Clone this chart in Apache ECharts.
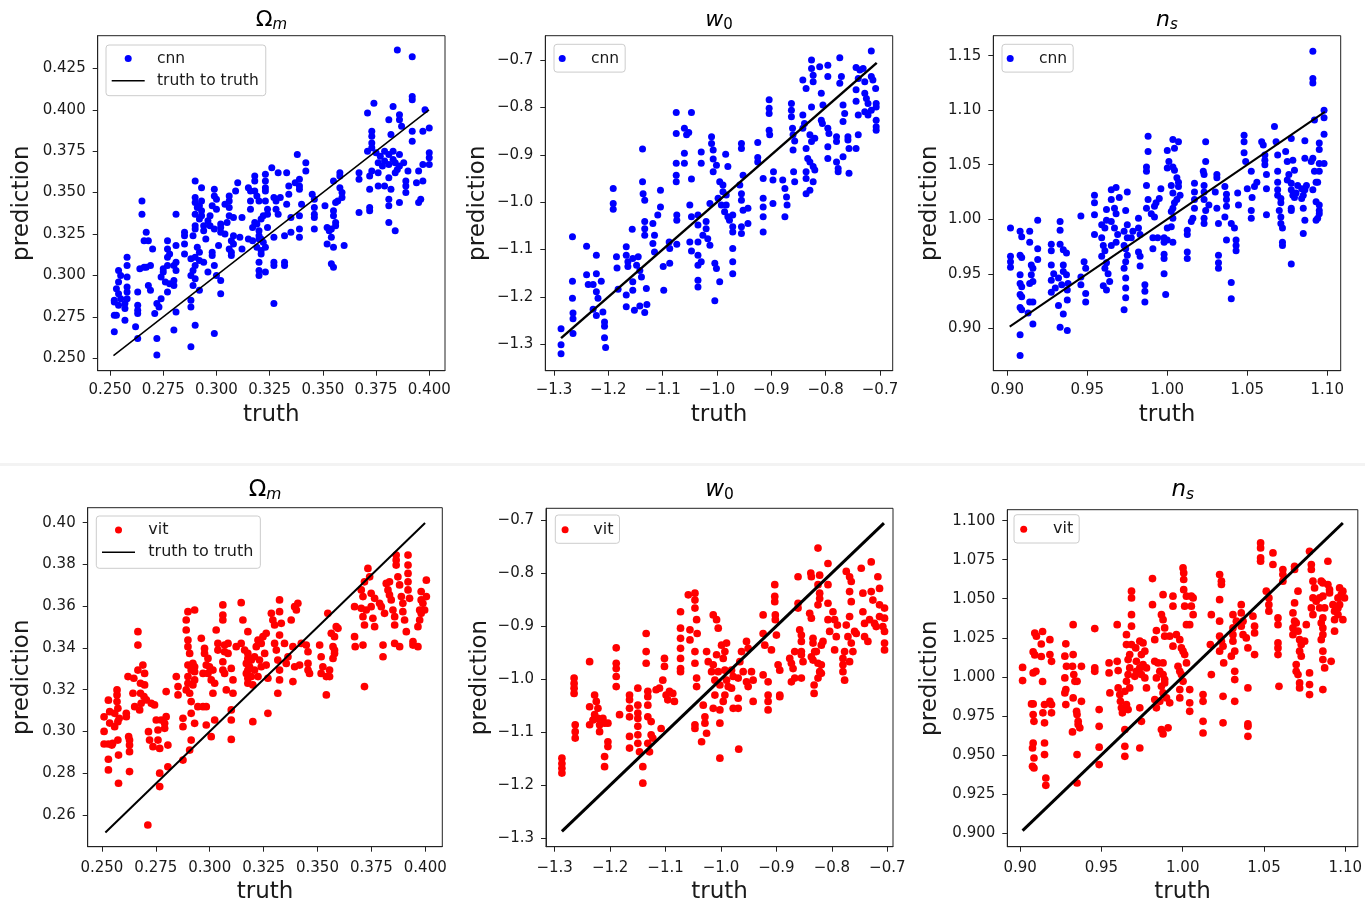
<!DOCTYPE html>
<html><head><meta charset="utf-8">
<script src="https://cdn.jsdelivr.net/npm/echarts@6/dist/echarts.min.js"></script>
<style>html,body{margin:0;padding:0;background:#fff}#c{width:1365px;height:905px}</style>
</head><body><div id="c"></div>
<script>
// ---------------- DATA ----------------
// [truth, prediction]
const omCnn = [[0.254,0.303],[0.255,0.300],[0.254,0.296],[0.253,0.292],[0.254,0.289],[0.255,0.286],[0.252,0.284],[0.254,0.282],[0.258,0.311],[0.258,0.306],[0.258,0.299],[0.258,0.293],[0.258,0.290],[0.258,0.286],[0.257,0.283],[0.257,0.280],[0.257,0.273],[0.252,0.285],[0.252,0.276],[0.253,0.276],[0.252,0.266],[0.263,0.290],[0.263,0.282],[0.263,0.279],[0.263,0.277],[0.262,0.269],[0.263,0.262],
[0.265,0.345],[0.265,0.337],[0.267,0.326],[0.266,0.321],[0.268,0.321],[0.270,0.316],[0.269,0.306],[0.267,0.305],[0.266,0.305],[0.264,0.304],[0.268,0.294],[0.269,0.291],[0.272,0.283],[0.271,0.277],
[0.281,0.337],[0.285,0.326],[0.285,0.324],[0.285,0.319],[0.285,0.313],[0.281,0.318],[0.277,0.321],[0.277,0.316],[0.278,0.313],[0.277,0.311],[0.277,0.306],[0.280,0.306],[0.281,0.308],[0.281,0.303],[0.280,0.297],[0.280,0.294],[0.275,0.304],[0.275,0.302],[0.274,0.299],[0.276,0.296],[0.277,0.290],[0.278,0.295],[0.274,0.286],[0.273,0.281],[0.281,0.278],[0.280,0.267],[0.272,0.262],[0.272,0.252],
[0.290,0.357],[0.293,0.353],[0.290,0.347],[0.290,0.344],[0.291,0.341],[0.293,0.345],[0.292,0.342],[0.293,0.339],[0.290,0.337],[0.292,0.334],[0.293,0.336],[0.290,0.330],[0.290,0.328],[0.289,0.324],[0.294,0.330],[0.294,0.327],[0.295,0.322],[0.291,0.317],[0.292,0.314],[0.290,0.311],[0.288,0.310],[0.292,0.309],[0.294,0.308],[0.290,0.306],[0.289,0.303],[0.288,0.300],[0.290,0.298],[0.289,0.294],[0.292,0.291],[0.288,0.285],[0.288,0.281],[0.290,0.270],[0.288,0.257],[0.299,0.352],[0.299,0.348],[0.300,0.346],[0.298,0.342],[0.300,0.340],[0.297,0.336],[0.296,0.333],[0.297,0.330],[0.299,0.328],[0.298,0.314],[0.298,0.312],[0.299,0.306],[0.296,0.302],[0.300,0.300],[0.302,0.297],[0.302,0.289],[0.299,0.265],[0.301,0.318],
[0.302,0.331],[0.302,0.329],[0.302,0.326],[0.304,0.325],[0.304,0.343],[0.306,0.341],[0.306,0.348],[0.306,0.345],[0.310,0.356],[0.309,0.351],[0.306,0.336],[0.308,0.335],[0.312,0.335],[0.305,0.332],[0.308,0.324],[0.311,0.323],[0.307,0.321],[0.308,0.319],[0.312,0.316],[0.307,0.314],[0.307,0.312],[0.306,0.316],
[0.326,0.365],[0.329,0.362],[0.323,0.361],[0.318,0.360],[0.318,0.357],[0.315,0.353],[0.316,0.351],[0.318,0.351],[0.323,0.357],[0.323,0.353],[0.323,0.351],[0.319,0.348],[0.320,0.345],[0.323,0.345],[0.327,0.347],[0.330,0.347],[0.328,0.345],[0.328,0.340],[0.324,0.340],[0.324,0.337],[0.329,0.337],[0.316,0.340],[0.316,0.345],[0.322,0.336],[0.321,0.334],[0.318,0.332],[0.317,0.329],[0.324,0.329],[0.319,0.331],[0.320,0.327],[0.320,0.324],[0.320,0.322],[0.321,0.322],[0.322,0.320],[0.323,0.317],[0.321,0.315],[0.321,0.313],[0.320,0.308],[0.320,0.303],[0.323,0.302],[0.320,0.300],[0.315,0.322],[0.317,0.321],[0.319,0.317],[0.327,0.323],[0.327,0.308],[0.327,0.306],[0.327,0.283],
[0.338,0.373],[0.342,0.368],[0.342,0.363],[0.339,0.358],[0.339,0.354],[0.339,0.352],[0.334,0.354],[0.333,0.362],[0.334,0.349],[0.333,0.343],[0.337,0.356],[0.340,0.343],[0.345,0.349],[0.346,0.346],[0.346,0.341],[0.346,0.337],[0.346,0.335],[0.339,0.336],[0.335,0.335],[0.339,0.328],[0.339,0.323],[0.346,0.328],[0.332,0.324],[0.335,0.326],[0.332,0.308],[0.332,0.306],
[0.358,0.362],[0.358,0.360],[0.355,0.357],[0.358,0.353],[0.359,0.350],[0.359,0.347],[0.357,0.345],[0.356,0.344],[0.355,0.339],[0.355,0.336],[0.356,0.332],[0.356,0.330],[0.354,0.328],[0.352,0.329],[0.353,0.327],[0.354,0.323],[0.352,0.319],[0.355,0.317],[0.360,0.318],[0.354,0.307],[0.355,0.305],[0.351,0.342],
[0.385,0.436],[0.392,0.432],[0.392,0.408],[0.392,0.406],[0.374,0.404],[0.371,0.398],[0.383,0.402],[0.386,0.397],[0.386,0.394],[0.381,0.394],[0.398,0.400],[0.400,0.389],[0.397,0.387],[0.392,0.387],[0.392,0.381],[0.387,0.390],[0.382,0.385],[0.373,0.387],[0.373,0.384],[0.373,0.380],[0.373,0.377],[0.371,0.375],[0.375,0.374],[0.377,0.372],[0.379,0.375],[0.381,0.373],[0.383,0.375],[0.383,0.370],[0.379,0.369],[0.376,0.368],[0.378,0.366],[0.381,0.367],[0.384,0.368],[0.386,0.373],[0.386,0.366],[0.388,0.368],[0.390,0.363],[0.385,0.364],[0.384,0.362],[0.400,0.374],[0.400,0.371],[0.400,0.367],[0.397,0.367],[0.395,0.363],[0.394,0.356],[0.397,0.357],[0.389,0.357],[0.381,0.359],[0.376,0.362],[0.373,0.363],[0.372,0.360],[0.367,0.362],[0.367,0.358],[0.372,0.352],[0.376,0.354],[0.379,0.354],[0.382,0.352],[0.389,0.354],[0.389,0.350],[0.386,0.344],[0.381,0.346],[0.381,0.342],[0.395,0.344],[0.396,0.346],[0.372,0.341],[0.372,0.339],[0.367,0.338],[0.381,0.332],[0.384,0.327]];

const w0Cnn = [[-1.287,-1.267],[-1.287,-1.301],[-1.287,-1.320],[-1.266,-1.073],[-1.266,-1.167],[-1.266,-1.203],[-1.265,-1.234],[-1.265,-1.246],[-1.265,-1.277],[-1.240,-1.093],[-1.240,-1.153],[-1.237,-1.174],[-1.228,-1.174],[-1.222,-1.112],[-1.222,-1.151],[-1.222,-1.189],[-1.219,-1.203],[-1.228,-1.226],[-1.222,-1.239],[-1.213,-1.167],[-1.210,-1.232],[-1.207,-1.253],[-1.207,-1.262],[-1.207,-1.286],[-1.205,-1.307],
[-1.191,-0.971],[-1.191,-1.003],[-1.191,-1.015],[-1.185,-1.115],[-1.184,-1.139],[-1.182,-1.184],[-1.167,-1.094],[-1.167,-1.112],[-1.164,-1.126],[-1.164,-1.136],[-1.167,-1.196],[-1.167,-1.221],[-1.156,-1.057],[-1.155,-1.119],[-1.148,-1.133],[-1.145,-1.115],[-1.142,-1.144],[-1.139,-1.158],[-1.155,-1.168],[-1.155,-1.186],[-1.152,-1.228],[-1.142,-1.219],[-1.133,-1.233],[-1.129,-1.216],[-1.130,-1.182],
[-1.137,-0.888],[-1.137,-0.957],[-1.136,-0.982],[-1.133,-0.996],[-1.133,-1.041],[-1.133,-1.056],[-1.133,-1.070],[-1.118,-1.045],[-1.115,-1.070],[-1.118,-1.087],[-1.115,-1.105],[-1.109,-1.027],[-1.104,-0.975],[-1.104,-1.010],[-1.099,-1.136],[-1.098,-1.186],[-1.088,-1.084],[-1.087,-1.098],[-1.087,-1.129],
[-1.075,-0.811],[-1.075,-0.855],[-1.075,-0.918],[-1.075,-0.943],[-1.075,-0.957],[-1.074,-1.027],[-1.074,-1.038],[-1.074,-1.089],[-1.060,-0.844],[-1.060,-0.897],[-1.060,-0.918],[-1.056,-0.858],[-1.052,-0.853],[-1.047,-0.811],[-1.047,-0.951],[-1.050,-1.006],[-1.047,-1.031],[-1.050,-1.084],[-1.047,-1.103],
[-1.035,-1.027],[-1.035,-1.048],[-1.035,-1.084],[-1.035,-1.112],[-1.035,-1.133],[-1.035,-1.165],[-1.035,-1.179],[-1.029,-1.126],[-1.029,-0.894],[-1.029,-0.918],[-1.010,-0.862],[-1.010,-0.876],[-1.007,-0.890],[-1.007,-0.909],[-1.001,-0.922],[-1.007,-0.936],[-1.013,-1.003],[-1.020,-1.041],[-1.020,-1.056],[-1.026,-1.070],[-1.017,-1.077],[-1.013,-1.091],[-1.004,-1.129],[-1.001,-1.140],[-0.995,-1.168],[-1.004,-1.208],
[-0.984,-0.899],[-0.980,-0.925],[-0.995,-0.957],[-0.989,-0.964],[-0.989,-0.978],[-0.998,-0.992],[-0.992,-1.006],[-0.983,-0.985],[-0.983,-1.006],[-0.986,-1.020],[-0.980,-1.031],[-0.977,-1.038],[-0.971,-1.027],[-0.971,-1.052],[-0.971,-1.063],[-0.971,-1.098],[-0.971,-1.126],[-0.971,-1.151],
[-0.955,-0.876],[-0.955,-0.887],[-0.952,-0.943],[-0.958,-0.964],[-0.955,-0.982],[-0.955,-0.996],[-0.952,-1.017],[-0.955,-1.052],[-0.955,-1.066],[-0.943,-1.013],[-0.943,-1.045],[-0.925,-0.874],[-0.925,-0.906],[-0.925,-0.915],[-0.915,-0.950],[-0.915,-0.992],[-0.915,-1.010],[-0.915,-1.031],[-0.915,-1.063],
[-0.904,-0.784],[-0.904,-0.802],[-0.904,-0.813],[-0.904,-0.848],[-0.903,-0.858],[-0.896,-0.936],[-0.897,-0.953],[-0.897,-1.003],[-0.879,-0.953],[-0.875,-0.971],[-0.872,-0.989],[-0.871,-1.006],[-0.875,-1.031],
[-0.863,-0.792],[-0.863,-0.806],[-0.863,-0.820],[-0.861,-0.844],[-0.860,-0.858],[-0.857,-0.871],[-0.860,-0.890],[-0.859,-0.936],[-0.857,-0.957],[-0.842,-0.742],[-0.836,-0.760],[-0.826,-0.700],[-0.826,-0.718],[-0.823,-0.732],[-0.823,-0.746],[-0.811,-0.714],[-0.796,-0.711],[-0.796,-0.735],[-0.808,-0.770],[-0.805,-0.795],[-0.826,-0.799],[-0.842,-0.816],[-0.839,-0.834],[-0.842,-0.844],[-0.829,-0.858],[-0.826,-0.872],[-0.820,-0.865],[-0.836,-0.887],[-0.833,-0.908],[-0.829,-0.915],[-0.823,-0.925],[-0.820,-0.932],[-0.836,-0.936],[-0.836,-0.950],[-0.823,-0.957],[-0.829,-0.975],[-0.836,-0.982],
[-0.808,-0.827],[-0.806,-0.834],[-0.796,-0.844],[-0.794,-0.855],[-0.796,-0.883],[-0.796,-0.908],[-0.780,-0.862],[-0.780,-0.872],[-0.780,-0.915],[-0.777,-0.929],[-0.777,-0.936],[-0.774,-0.695],[-0.771,-0.735],[-0.774,-0.749],[-0.768,-0.795],[-0.765,-0.813],[-0.768,-0.830],[-0.759,-0.862],[-0.759,-0.869],[-0.757,-0.887],[-0.757,-0.939],[-0.768,-0.904],
[-0.744,-0.716],[-0.740,-0.739],[-0.737,-0.721],[-0.744,-0.763],[-0.744,-0.787],[-0.740,-0.816],[-0.740,-0.858],[-0.744,-0.887],[-0.731,-0.718],[-0.728,-0.746],[-0.728,-0.770],[-0.725,-0.781],[-0.722,-0.792],[-0.716,-0.681],[-0.716,-0.735],[-0.713,-0.742],[-0.708,-0.760],[-0.707,-0.792],[-0.707,-0.799],[-0.716,-0.806],[-0.722,-0.816],[-0.728,-0.809],[-0.707,-0.827],[-0.707,-0.841],[-0.707,-0.848]];

const nsCnn = [[0.902,0.992],[0.902,0.966],[0.902,0.961],[0.902,0.956],[0.908,0.989],[0.909,0.984],[0.908,0.967],[0.909,0.965],[0.908,0.949],[0.908,0.941],[0.909,0.938],[0.908,0.931],[0.909,0.929],[0.908,0.919],[0.909,0.917],[0.908,0.894],[0.908,0.875],
[0.914,0.989],[0.914,0.979],[0.919,0.999],[0.919,0.973],[0.919,0.963],[0.915,0.958],[0.916,0.955],[0.915,0.949],[0.916,0.943],[0.914,0.941],[0.916,0.924],[0.914,0.924],[0.913,0.914],[0.916,0.904],
[0.9275,0.977],[0.9275,0.971],[0.933,0.998],[0.933,0.990],[0.933,0.977],[0.935,0.972],[0.937,0.969],[0.9275,0.958],[0.929,0.950],[0.9275,0.944],[0.930,0.937],[0.9275,0.933],[0.935,0.958],[0.935,0.952],[0.937,0.949],[0.938,0.941],[0.932,0.946],[0.934,0.940],[0.9375,0.935],[0.9375,0.926],[0.932,0.921],[0.935,0.913],[0.933,0.901],[0.9375,0.898],
[0.946,1.003],[0.946,0.947],[0.946,0.940],[0.948,0.961],[0.949,0.955],[0.949,0.932],[0.949,0.924],
[0.9545,1.022],[0.9545,1.015],[0.9545,1.004],[0.9545,0.986],[0.959,0.995],[0.962,1.009],[0.962,0.999],[0.961,0.992],[0.959,0.983],[0.960,0.976],[0.961,0.971],[0.959,0.966],[0.962,0.960],[0.961,0.955],[0.960,0.939],[0.962,0.935],[0.963,0.950],
[0.965,1.027],[0.968,1.029],[0.970,1.020],[0.965,1.018],[0.967,1.010],[0.968,1.005],[0.965,0.998],[0.967,0.992],[0.969,0.986],[0.968,0.979],[0.965,0.976],[0.964,0.943],
[0.975,1.025],[0.974,1.008],[0.975,0.995],[0.973,0.989],[0.975,0.983],[0.973,0.976],[0.974,0.973],[0.975,0.967],[0.974,0.961],[0.973,0.955],[0.974,0.946],[0.974,0.937],[0.974,0.928],[0.973,0.917],[0.9785,0.989],[0.9775,0.983],[0.982,1.001],[0.982,0.992],[0.983,0.986],[0.982,0.970],[0.983,0.966],[0.983,0.957],
[0.988,1.076],[0.988,1.062],[0.987,1.048],[0.987,1.044],[0.987,1.031],[0.988,1.018],[0.987,1.010],[0.992,1.012],[0.990,1.005],[0.992,1.002],[0.996,1.028],[0.995,1.019],[0.993,1.015],[0.991,0.983],[0.994,0.983],[0.991,0.973],[0.986,0.940],[0.986,0.934],[0.986,0.924],[0.998,0.983],[0.998,0.979],[0.998,0.968],[0.998,0.964],[0.998,0.950],[0.999,0.931],
[1.000,1.063],[1.0035,1.073],[1.007,1.071],[1.0045,1.065],[1.001,1.053],[1.0035,1.048],[1.000,1.047],[1.0045,1.045],[1.006,1.038],[1.007,1.034],[1.0025,1.031],[1.007,1.030],[1.0035,1.024],[1.008,1.022],[1.006,1.018],[1.0045,1.015],[1.0035,1.010],[1.0025,1.007],[1.0035,1.001],[1.0025,0.993],[1.000,0.992],[1.0035,0.979],[1.000,0.981],
[1.0125,0.990],[1.0125,0.986],[1.0125,0.970],[1.0125,0.964],[1.017,1.033],[1.017,1.025],[1.017,1.018],[1.017,1.010],[1.016,1.001],[1.015,0.998],
[1.024,1.071],[1.024,1.053],[1.0225,1.044],[1.023,1.041],[1.023,1.031],[1.023,1.025],[1.023,1.018],[1.024,1.008],[1.023,1.001],[1.023,0.996],[1.026,1.013],[1.030,1.025],[1.031,1.041],[1.031,1.038],[1.031,1.010],[1.032,0.996],[1.032,0.967],[1.032,0.960],[1.032,0.955],
[1.036,1.030],[1.037,1.023],[1.037,1.018],[1.037,1.012],[1.036,1.002],[1.037,0.981],[1.040,0.996],[1.042,0.992],[1.043,0.981],[1.043,0.976],[1.043,0.971],[1.040,0.942],[1.040,0.927],[1.044,1.024],[1.0445,1.013],
[1.048,1.077],[1.048,1.071],[1.048,1.061],[1.049,1.053],[1.0525,1.044],[1.056,1.034],[1.0545,1.030],[1.053,1.020],[1.0525,1.008],[1.0525,1.001],[1.050,1.028],[1.059,1.071],[1.060,1.068],[1.061,1.059],[1.061,1.054],[1.061,1.050],[1.062,1.041],[1.062,1.028],[1.062,1.004],
[1.067,1.085],[1.068,1.071],[1.069,1.059],[1.069,1.044],[1.069,1.034],[1.069,1.027],[1.069,1.022],[1.071,1.019],[1.071,1.015],[1.070,1.008],[1.071,1.002],[1.071,0.996],[1.072,0.992],[1.072,0.979],[1.072,0.976],[1.074,1.062],[1.075,1.053],[1.076,1.041],[1.075,1.036],
[1.0775,1.074],[1.0785,1.054],[1.0795,1.045],[1.0775,1.033],[1.0775,1.027],[1.0785,1.022],[1.0795,1.020],[1.0805,1.024],[1.0815,1.031],[1.084,1.028],[1.085,1.022],[1.086,1.027],[1.087,1.031],[1.084,1.019],[1.0775,1.010],[1.0775,1.008],[1.085,1.010],[1.086,0.999],[1.085,0.987],[1.0775,0.959],[1.086,1.072],[1.086,1.056],
[1.091,1.154],[1.091,1.129],[1.091,1.125],[1.092,1.091],[1.091,1.056],[1.092,1.044],[1.093,1.034],[1.091,1.027],[1.090,1.053],[1.095,1.070],[1.095,1.064],[1.095,1.051],[1.098,1.051],[1.098,1.078],[1.098,1.100],[1.098,1.093],[1.095,1.044],[1.094,1.034],[1.095,1.013],[1.095,1.008],[1.095,1.005],[1.094,1.001],[1.093,0.999],[1.093,1.016]];

const omVit = [[0.251,0.307],[0.251,0.300],[0.251,0.294],[0.253,0.315],[0.2536,0.3095],[0.2536,0.304],[0.253,0.294],[0.253,0.2867],[0.253,0.2816],[0.255,0.2943],[0.2559,0.3023],[0.2559,0.3087],[0.257,0.3199],[0.257,0.3175],[0.257,0.3143],[0.2574,0.3111],[0.258,0.3063],[0.2574,0.3047],[0.2574,0.2959],[0.2577,0.2887],[0.2577,0.2752],[0.2546,0.2935],
[0.2613,0.3087],[0.2613,0.3071],[0.2624,0.2975],[0.2628,0.2959],[0.2628,0.2935],[0.2628,0.2903],[0.2628,0.2808],[0.2621,0.3263],[0.2648,0.3255],[0.2644,0.3183],[0.2652,0.3119],[0.2667,0.3294],[0.2667,0.3478],[0.2667,0.3414],[0.2679,0.3231],[0.2679,0.3183],[0.2682,0.3135],[0.269,0.3318],[0.2698,0.3278],[0.2698,0.3223],[0.2695,0.3167],[0.2675,0.3103],[0.2706,0.3151],
[0.2716,0.2999],[0.2721,0.2959],[0.2729,0.3135],[0.2744,0.3127],[0.2752,0.3055],[0.276,0.3007],[0.276,0.2959],[0.2768,0.2919],[0.2737,0.2927],[0.2775,0.3055],[0.2791,0.3039],[0.2798,0.3071],[0.2798,0.3191],[0.2791,0.3015],[0.2806,0.2935],[0.2768,0.28],[0.2768,0.2736],[0.2806,0.2831],[0.2713,0.2552],
[0.2845,0.3263],[0.2853,0.3215],[0.2853,0.3175],[0.2876,0.3063],[0.2876,0.3023],[0.2876,0.2863],[0.2891,0.3534],[0.2899,0.3574],[0.293,0.3582],[0.2891,0.3486],[0.2899,0.3438],[0.2899,0.3406],[0.2907,0.3374],[0.2899,0.3318],[0.2899,0.3263],[0.2899,0.3231],[0.2891,0.3199],[0.2907,0.3183],[0.2914,0.3143],[0.2922,0.3326],[0.293,0.331],[0.293,0.3286],[0.293,0.3247],[0.2922,0.3223],[0.2914,0.3294],[0.2914,0.3087],[0.2914,0.2959],[0.2907,0.2911],[0.293,0.3039],[0.2945,0.3119],
[0.2961,0.3446],[0.2976,0.3398],[0.2976,0.3374],[0.2992,0.335],[0.2984,0.3318],[0.2999,0.331],[0.2969,0.3278],[0.2992,0.3278],[0.3015,0.3294],[0.3007,0.3247],[0.3023,0.3231],[0.3015,0.3183],[0.2984,0.3119],[0.2969,0.3119],[0.2984,0.3031],[0.3023,0.3055],[0.3007,0.2975],[0.303,0.3486],[0.3038,0.3422],[0.3038,0.339],[0.3061,0.3606],[0.3061,0.3558],[0.3061,0.3534],[0.3069,0.3414],[0.3069,0.3382],[0.3061,0.3334],[0.3061,0.3294],[0.3069,0.3278],[0.3085,0.3422],[0.3085,0.3374],[0.3077,0.3199],[0.31,0.3302],[0.31,0.3103],[0.3108,0.3247],[0.3108,0.3183],[0.31,0.3055],[0.31,0.2962],
[0.3123,0.3406],[0.3146,0.3617],[0.3154,0.3534],[0.3146,0.3422],[0.3162,0.339],[0.3177,0.3478],[0.3177,0.3374],[0.3177,0.335],[0.317,0.3326],[0.3185,0.331],[0.3177,0.3294],[0.317,0.3278],[0.3177,0.3255],[0.3177,0.3231],[0.3193,0.3342],[0.3193,0.3263],[0.32,0.3223],[0.3208,0.3358],[0.3208,0.3294],[0.3216,0.3406],[0.3224,0.3438],[0.3239,0.3422],[0.3231,0.3342],[0.3239,0.331],[0.3224,0.3263],[0.3247,0.3454],[0.3255,0.3374],[0.3262,0.3318],[0.327,0.3255],[0.3262,0.347],[0.32,0.3047],[0.327,0.3087],
[0.3286,0.3566],[0.3293,0.3534],[0.3301,0.351],[0.3324,0.363],[0.3324,0.3574],[0.3332,0.3518],[0.3324,0.3462],[0.3301,0.3422],[0.3309,0.339],[0.3316,0.3342],[0.3324,0.3294],[0.3324,0.3247],[0.3316,0.3183],[0.3347,0.3422],[0.3363,0.3358],[0.3355,0.3326],[0.3378,0.3534],[0.3394,0.3598],[0.3402,0.3582],[0.3409,0.3614],[0.3386,0.3406],[0.3394,0.331],[0.3386,0.3239],[0.3425,0.3422],[0.3448,0.3414],[0.3456,0.3382],[0.3456,0.3326],[0.3456,0.3294],[0.3463,0.3278],[0.3417,0.3318],
[0.351,0.3414],[0.3517,0.3358],[0.3525,0.331],[0.3517,0.3278],[0.3541,0.3263],[0.3556,0.3294],[0.3556,0.3263],[0.3541,0.3175],[0.3548,0.3566],[0.3564,0.347],[0.3579,0.3454],[0.3587,0.3502],[0.3595,0.3494],[0.3572,0.3406],[0.3579,0.3374],[0.3579,0.339],[0.3572,0.335],
[0.3672,0.3598],[0.3672,0.3454],[0.3675,0.3406],[0.3718,0.3215],[0.3703,0.3678],[0.3711,0.3646],[0.3718,0.3717],[0.3734,0.3781],[0.3742,0.3741],[0.3703,0.359],[0.3711,0.355],[0.3718,0.351],[0.3711,0.3414],[0.3726,0.3582],[0.3749,0.3598],[0.3757,0.3542],[0.3765,0.3502],[0.3749,0.3662],[0.3765,0.3638],
[0.3788,0.3614],[0.3796,0.3598],[0.3804,0.3414],[0.3804,0.3358],[0.3811,0.3566],[0.3819,0.3709],[0.3827,0.3678],[0.3834,0.3717],[0.3834,0.3654],[0.3842,0.363],[0.385,0.3582],[0.3858,0.355],[0.3858,0.351],[0.3873,0.3741],[0.3865,0.3821],[0.3865,0.3845],[0.3865,0.3797],[0.3881,0.3702],[0.3889,0.3646],[0.3896,0.3614],[0.3896,0.3574],[0.3904,0.3534],[0.3912,0.3478],[0.3881,0.3406],[0.3858,0.3422],[0.392,0.3845],[0.392,0.3797],[0.392,0.3757],[0.392,0.3717],[0.392,0.3678],[0.3927,0.3638],
[0.3943,0.343],[0.3943,0.3414],[0.3966,0.3406],[0.3966,0.3502],[0.3974,0.3582],[0.3981,0.367],[0.3981,0.363],[0.3981,0.3566],[0.3989,0.3614],[0.3997,0.3582],[0.4005,0.3725],[0.4005,0.3646],[0.3974,0.3534]];

const w0Vit = [[-1.287,-1.149],[-1.287,-1.159],[-1.287,-1.168],[-1.287,-1.177],[-1.265,-0.998],[-1.265,-1.008],[-1.265,-1.017],[-1.265,-1.027],[-1.263,-1.086],[-1.263,-1.099],[-1.263,-1.111],
[-1.237,-0.967],[-1.237,-1.052],[-1.237,-1.086],[-1.228,-1.030],[-1.225,-1.042],[-1.228,-1.067],[-1.222,-1.055],[-1.222,-1.074],[-1.219,-1.086],[-1.219,-1.099],[-1.213,-1.074],[-1.210,-1.083],[-1.204,-1.083],[-1.231,-1.077],[-1.204,-1.118],[-1.204,-1.127],[-1.210,-1.146],[-1.210,-1.165],[-1.189,-0.941],[-1.189,-0.970],[-1.189,-0.980],[-1.189,-0.995],[-1.189,-1.014],[-1.183,-1.067],
[-1.165,-1.030],[-1.165,-1.039],[-1.165,-1.055],[-1.165,-1.071],[-1.165,-1.108],[-1.165,-1.130],[-1.150,-1.017],[-1.150,-1.049],[-1.150,-1.064],[-1.150,-1.074],[-1.150,-1.089],[-1.150,-1.105],[-1.150,-1.121],[-1.147,-1.137],[-1.135,-0.914],[-1.135,-0.948],[-1.135,-0.970],[-1.132,-1.023],[-1.132,-1.033],[-1.132,-1.049],[-1.132,-1.071],[-1.126,-1.080],[-1.126,-1.105],[-1.132,-1.121],[-1.129,-1.137],[-1.141,-1.165],[-1.141,-1.196],[-1.123,-1.111],
[-1.117,-1.020],[-1.111,-1.017],[-1.105,-1.002],[-1.102,-0.961],[-1.102,-0.976],[-1.099,-1.030],[-1.096,-1.039],[-1.093,-1.023],[-1.087,-1.027],[-1.084,-1.042],[-1.108,-1.093],
[-1.073,-0.873],[-1.073,-0.904],[-1.073,-0.923],[-1.073,-0.942],[-1.073,-0.961],[-1.073,-0.980],[-1.073,-0.986],[-1.059,-0.841],[-1.047,-0.838],[-1.047,-0.851],[-1.047,-0.866],[-1.056,-0.907],[-1.056,-0.926],[-1.044,-0.888],[-1.043,-0.914],[-1.047,-0.948],[-1.047,-0.970],[-1.044,-0.998],[-1.044,-1.014],[-1.047,-1.086],[-1.047,-1.093],[-1.035,-1.118],
[-1.032,-1.049],[-1.029,-1.071],[-1.029,-1.083],[-1.026,-1.102],[-1.026,-0.948],[-1.023,-0.967],[-1.017,-0.986],[-1.014,-0.879],[-1.008,-0.888],[-1.005,-0.904],[-1.008,-0.954],[-1.014,-0.973],[-1.011,-1.002],[-1.005,-0.986],[-1.002,-1.011],[-1.011,-1.030],[-1.014,-1.055],[-1.002,-1.058],[-1.002,-1.083],[-1.002,-1.149],[-0.999,-0.936],[-0.996,-0.961],[-0.993,-0.948],[-0.990,-0.932],[-0.993,-0.983],[-0.990,-1.002],[-0.987,-1.014],[-0.993,-1.030],[-0.996,-1.042],
[-0.981,-0.983],[-0.978,-0.995],[-0.981,-1.017],[-0.978,-1.055],[-0.969,-1.055],[-0.969,-1.036],[-0.969,-0.998],[-0.966,-0.967],[-0.963,-0.948],[-0.960,-0.986],[-0.954,-0.929],[-0.951,-0.942],[-0.954,-1.005],[-0.951,-1.014],[-0.945,-0.986],[-0.942,-1.002],[-0.942,-1.042],[-0.968,-1.132],
[-0.924,-0.879],[-0.924,-0.914],[-0.921,-0.936],[-0.924,-0.992],[-0.915,-1.005],[-0.915,-1.030],[-0.915,-1.042],[-0.915,-1.058],[-0.903,-0.822],[-0.903,-0.844],[-0.903,-0.854],[-0.902,-0.879],[-0.902,-0.888],[-0.900,-0.917],[-0.909,-0.945],[-0.897,-0.973],[-0.894,-0.983],[-0.894,-1.030],[-0.894,-1.033],
[-0.876,-0.961],[-0.873,-0.970],[-0.870,-0.980],[-0.873,-1.005],[-0.867,-0.998],[-0.867,-0.948],[-0.861,-0.807],[-0.861,-0.857],[-0.861,-0.866],[-0.858,-0.907],[-0.855,-0.917],[-0.855,-0.929],[-0.855,-0.948],[-0.855,-0.954],[-0.852,-0.967],[-0.855,-0.998],
[-0.838,-0.800],[-0.837,-0.807],[-0.825,-0.753],[-0.822,-0.804],[-0.825,-0.822],[-0.822,-0.838],[-0.822,-0.848],[-0.825,-0.860],[-0.840,-0.876],[-0.837,-0.885],[-0.834,-0.923],[-0.834,-0.932],[-0.831,-0.948],[-0.837,-0.958],[-0.834,-0.964],[-0.828,-0.948],[-0.825,-0.970],[-0.822,-0.986],[-0.825,-0.998],[-0.819,-0.973],[-0.819,-0.989],[-0.832,-1.011],[-0.832,-1.027],[-0.819,-0.936],[-0.816,-0.929],[-0.807,-0.782],[-0.807,-0.822],[-0.807,-0.857],[-0.807,-0.888],[-0.804,-0.910],
[-0.798,-0.873],[-0.795,-0.888],[-0.792,-0.920],[-0.795,-0.945],[-0.790,-0.898],[-0.780,-0.973],[-0.780,-0.986],[-0.777,-1.002],[-0.780,-0.961],[-0.777,-0.948],
[-0.774,-0.797],[-0.768,-0.807],[-0.765,-0.816],[-0.768,-0.835],[-0.765,-0.854],[-0.768,-0.882],[-0.774,-0.898],[-0.771,-0.920],[-0.765,-0.932],[-0.762,-0.948],[-0.768,-0.967],[-0.759,-0.910],[-0.756,-0.914],[-0.747,-0.791],[-0.744,-0.838],[-0.744,-0.873],[-0.741,-0.895],[-0.741,-0.920],[-0.735,-0.929],[-0.732,-0.888],[-0.729,-0.779],[-0.729,-0.835],[-0.726,-0.851],[-0.723,-0.895],[-0.720,-0.901],[-0.717,-0.807],[-0.714,-0.829],[-0.714,-0.860],[-0.714,-0.882],[-0.708,-0.901],[-0.705,-0.866],[-0.705,-0.885],[-0.705,-0.910],[-0.705,-0.932],[-0.705,-0.945]];

const nsVit = [[0.9015,1.006],[0.9015,0.9976],[0.909,1.028],[0.910,1.026],[0.908,1.016],[0.909,1.014],[0.908,1.0025],[0.9097,1.0035],[0.9138,1.029],[0.913,1.021],[0.913,1.013],[0.9138,0.997],[0.907,0.9826],[0.908,0.9826],[0.908,0.9758],[0.9085,0.9715],[0.915,0.9822],[0.914,0.9769],[0.915,0.9705],[0.908,0.9576],[0.9076,0.9544],[0.9085,0.948],[0.9076,0.9427],[0.9085,0.9416],[0.915,0.9576],[0.915,0.9502],[0.9158,0.9352],[0.9158,0.9305],[0.9183,1.0238],[0.9183,1.0142],[0.9193,1.0099],[0.9183,0.9843],[0.9193,0.9822],[0.9193,0.9769],
[0.9281,1.0211],[0.9275,1.0132],[0.9285,1.0067],[0.9275,0.9993],[0.9281,0.9918],[0.9275,0.9897],[0.9281,0.9822],[0.9326,1.0334],[0.9326,1.0142],[0.9322,1.0067],[0.933,1.0014],[0.9337,0.9971],[0.9326,0.9865],[0.935,0.9971],[0.9377,1.0067],[0.9377,0.9843],[0.9347,0.9779],[0.935,0.9758],[0.9357,0.9715],[0.9367,0.9673],[0.9357,0.9694],[0.9322,0.9647],[0.935,0.9502],[0.935,0.932],
[0.9459,1.0309],[0.9459,1.0057],[0.9459,1.0035],[0.9486,0.979],[0.9486,0.9683],[0.9486,0.9549],[0.9486,0.9438],[0.9547,1.0089],[0.9547,1.0025],[0.9552,0.9897],[0.9597,1.0099],[0.9603,1.004],[0.9603,0.9929],[0.9597,1.0334],
[0.9613,0.9886],[0.9617,0.9843],[0.9623,0.9801],[0.9629,0.9769],[0.9644,0.9907],[0.9654,1.027],[0.9654,1.0206],[0.9664,1.011],[0.9685,1.0548],[0.9685,1.0505],[0.9685,1.0398],[0.9685,1.0324],[0.9685,1.0206],[0.9674,1.0142],[0.9674,1.0057],[0.9664,1.0014],[0.9654,0.9971],[0.9674,0.9929],[0.9644,0.9662],[0.9644,0.9555],[0.9644,0.9491],[0.9654,0.9822],[0.9664,0.979],
[0.9711,1.0185],[0.9715,1.0099],[0.9736,1.0228],[0.9746,1.0142],[0.9736,1.0057],[0.9756,1.0078],[0.9715,1.0035],[0.9746,1.0014],[0.9767,0.9993],[0.9777,0.9929],[0.9736,0.9801],[0.9746,0.9715],[0.9736,0.9544],[0.9756,1.0217],[0.9767,1.0164],[0.9705,1.0003],[0.9777,1.0057],
[0.9814,1.0629],[0.9814,1.0462],[0.9838,1.0296],[0.9828,1.0238],[0.9828,1.0099],[0.9848,1.0089],[0.9879,1.0089],[0.9859,1.0035],[0.9838,0.9993],[0.9879,1.0014],[0.9889,0.9982],[0.9889,0.9961],[0.9869,0.9939],[0.9879,0.9897],[0.9859,0.9843],[0.99,0.9865],[0.9828,0.9854],[0.9838,0.9801],[0.992,0.9833],[0.9869,0.9662],[0.9879,0.9634],[0.991,0.9673],[0.9879,1.0526],[0.994,1.0516],[0.994,1.0452],[0.9869,1.0398],[0.9879,1.0366],[0.9889,1.0313],[0.9889,1.026],[0.992,1.026],[0.9961,1.027],[0.994,1.0196],[0.9982,1.0238],[0.9992,1.0185],[1.0002,1.0164],[1.0012,1.0142],[1.0023,1.0089],
[1.0002,1.0697],[1.0006,1.0665],[1.0006,1.0623],[1.0006,1.0558],[1.0023,1.0516],[1.0053,1.0516],[1.0064,1.0505],[1.0053,1.0452],[1.0064,1.0398],[1.0043,1.0334],[1.0012,1.0452],[1.0023,1.0334],[0.9971,1.0067],[0.9982,1.0035],[0.9992,1.0014],[1.0002,0.9971],[0.9982,0.9918],[0.9982,0.9865],[1.0043,0.9918],[1.0043,0.9833],[1.0043,0.9779],
[1.0125,0.9886],[1.0125,0.9843],[1.0125,0.9715],[1.0125,0.964],[1.0176,1.0398],[1.017,1.0206],[1.0176,1.0014],[1.0227,1.0655],[1.0238,1.0612],[1.0238,1.0591],[1.0227,1.0494],[1.0227,1.0356],[1.0227,1.026],[1.0238,1.0228],[1.0248,1.0196],[1.0227,1.0164],[1.0252,1.0089],[1.0248,0.9875],[1.0248,0.9705],
[1.0309,1.0398],[1.0309,1.0313],[1.033,1.0356],[1.0309,1.027],[1.0309,1.0228],[1.032,1.0164],[1.0299,1.0132],[1.032,1.0035],[1.032,0.9982],[1.032,0.9843],[1.036,1.0462],[1.036,1.0409],[1.0371,1.0356],[1.036,1.0324],[1.0371,1.027],[1.0391,1.0249],[1.0401,1.0185],[1.0401,0.9929],[1.0401,0.9698],[1.0401,0.9683],[1.0401,0.9619],[1.0432,1.0388],[1.0442,1.0324],[1.0442,1.0281],[1.0442,1.0142],
[1.0479,1.0857],[1.0479,1.0825],[1.0479,1.0761],[1.0479,1.074],[1.0514,1.0548],[1.053,1.0505],[1.053,1.0462],[1.053,1.042],[1.0555,1.0793],[1.0555,1.0719],[1.0586,1.0377],[1.0586,1.0334],[1.0586,1.0217],[1.0586,1.0185],[1.0586,1.0142],[1.0592,0.9939],[1.0616,1.0687],[1.0616,1.0655],[1.0616,1.0612],
[1.0688,1.0708],[1.0688,1.0687],[1.0709,1.0548],[1.0688,1.0473],[1.0678,1.0409],[1.0688,1.0356],[1.0678,1.0313],[1.0678,1.027],[1.0698,1.0345],[1.0709,1.0292],[1.0719,1.0238],[1.0729,1.0206],[1.075,1.0228],[1.0719,1.0164],[1.0729,1.0132],[1.0698,1.0078],[1.0698,1.0035],[1.0709,1.0014],[1.0719,0.9961],[1.0719,0.9929],[1.078,1.0804],[1.0791,1.0719],[1.0791,1.0687],[1.0801,1.0612],[1.0811,1.0569],[1.0801,1.0505],[1.0791,1.0441],[1.0801,1.0398],[1.078,1.0025],[1.078,0.995],[1.078,0.9886],[1.076,1.0334],
[1.0852,1.0612],[1.0862,1.0601],[1.0893,1.0591],[1.0903,1.0537],[1.0862,1.0516],[1.0842,1.0505],[1.0821,1.0484],[1.0842,1.0441],[1.0873,1.0441],[1.0862,1.0377],[1.0852,1.0345],[1.0862,1.0313],[1.0862,1.027],[1.0852,1.0238],[1.0862,1.0164],[1.0862,1.011],[1.0873,1.0057],[1.0913,1.0099],[1.0862,0.9918],[1.0893,1.074],[1.0903,1.0558],[1.0924,1.0462],[1.0934,1.042],[1.0934,1.0366],[1.0955,1.0441],[1.0955,1.0398],[1.0965,1.0569],[1.0975,1.0526],[1.0985,1.0548],[1.0995,1.0505],[1.0985,1.0366],[1.0934,1.0292],[1.0955,1.0505],[1.0965,1.0462]];

// truth range covered by the "truth to truth" line (min, max)
const omLine = [0.2516, 0.3999];
const w0Line = [-1.287, -0.706];
const nsLine = [0.9015, 1.0985];

// tick values and labels
const omTicks = [0.25, 0.275, 0.3, 0.325, 0.35, 0.375, 0.4];
const omTickLabels = ['0.250','0.275','0.300','0.325','0.350','0.375','0.400'];
const omCnnYTicks = [0.25, 0.275, 0.3, 0.325, 0.35, 0.375, 0.4, 0.425];
const omCnnYLabels = ['0.250','0.275','0.300','0.325','0.350','0.375','0.400','0.425'];
const omVitYTicks = [0.26, 0.28, 0.3, 0.32, 0.34, 0.36, 0.38, 0.4];
const omVitYLabels = ['0.26','0.28','0.30','0.32','0.34','0.36','0.38','0.40'];
const w0Ticks = [-1.3, -1.2, -1.1, -1.0, -0.9, -0.8, -0.7];
const w0TickLabels = ['\u22121.3','\u22121.2','\u22121.1','\u22121.0','\u22120.9','\u22120.8','\u22120.7'];
const nsTicks = [0.9, 0.95, 1.0, 1.05, 1.1];
const nsTickLabels = ['0.90','0.95','1.00','1.05','1.10'];
const nsCnnYTicks = [0.9, 0.95, 1.0, 1.05, 1.1, 1.15];
const nsCnnYLabels = ['0.90','0.95','1.00','1.05','1.10','1.15'];
const nsVitYTicks = [0.9, 0.925, 0.95, 0.975, 1.0, 1.025, 1.05, 1.075, 1.1];
const nsVitYLabels = ['0.900','0.925','0.950','0.975','1.000','1.025','1.050','1.075','1.100'];

// ---------------- LAYOUT ----------------
const FONT = "'DejaVu Sans', sans-serif";
const TXT = '#1a1a1a';
const BLUE = '#0000ff', RED = '#ff0000';
const LINE_ICON = 'path://M0,0L33,0L33,1.5L0,1.5Z';

const panels = [
  {data: omCnn, name:'cnn', color:BLUE, size:7, line: omLine, lw:1.5, title:'om', tTop:8, tFs:22, tSub:15,
   grid:{left:97.7, top:35.7, width:347.3, height:335},
   x:{min:0.2442, max:0.4074, t:omTicks, l:omTickLabels}, y:{min:0.2425, max:0.4447, t:omCnnYTicks, l:omCnnYLabels},
   yGap:64, xMargin:12, xGap:33,
   lg:{names:['cnn','truth to truth'], left:106, top:45, pad:[5.5,7,7,5.7], gap:6.2, fs:15.5, tp:7.3}},
  {data: w0Cnn, name:'cnn', color:BLUE, size:7, line: w0Line, lw:2.5, title:'w0', tTop:8, tFs:22, tSub:15,
   grid:{left:545.3, top:35.7, width:347.4, height:335},
   x:{min:-1.316, max:-0.6766, t:w0Ticks, l:w0TickLabels}, y:{min:-1.3557, max:-0.6487, t:w0Ticks, l:w0TickLabels},
   yGap:56, xMargin:12, xGap:33,
   lg:{names:['cnn'], left:554, top:44.3, pad:[6.2,6,5.6,4.7], gap:6, fs:15.5, tp:7.3}},
  {data: nsCnn, name:'cnn', color:BLUE, size:7, line: nsLine, lw:2, title:'ns', tTop:8, tFs:22, tSub:15,
   grid:{left:993.3, top:35.7, width:347.4, height:335},
   x:{min:0.89125, max:1.1084, t:nsTicks, l:nsTickLabels}, y:{min:0.8611, max:1.1683, t:nsCnnYTicks, l:nsCnnYLabels},
   yGap:52, xMargin:12, xGap:33,
   lg:{names:['cnn'], left:1002, top:44.3, pad:[6.2,6,5.6,4.7], gap:6, fs:15.5, tp:7.3}},
  {data: omVit, name:'vit', color:RED, size:7.7, line: omLine, lw:2, title:'om', tTop:478, tFs:23, tSub:15.5,
   grid:{left:87.7, top:507.7, width:354.6, height:339},
   x:{min:0.2434, max:0.4079, t:omTicks, l:omTickLabels}, y:{min:0.2448, max:0.4072, t:omVitYTicks, l:omVitYLabels},
   yGap:54, xMargin:14, xGap:34,
   lg:{names:['vit','truth to truth'], left:96.3, top:516, pad:[6,7,8,5.7], gap:6.3, fs:16, tp:8.3}},
  {data: w0Vit, name:'vit', color:RED, size:7.7, line: w0Line, lw:3, title:'w0', tTop:478, tFs:23, tSub:15.5,
   grid:{left:546, top:508.3, width:347, height:338.4},
   x:{min:-1.3157, max:-0.6897, t:w0Ticks, l:w0TickLabels}, y:{min:-1.3158, max:-0.678, t:w0Ticks, l:w0TickLabels},
   yGap:54.5, xMargin:14, xGap:34,
   lg:{names:['vit'], left:555.3, top:515, pad:[6.7,6,5.6,6.3], gap:6, fs:16, tp:6.7}},
  {data: nsVit, name:'vit', color:RED, size:7.7, line: nsLine, lw:3, title:'ns', tTop:478, tFs:23, tSub:15.5,
   grid:{left:1007.3, top:509.7, width:351, height:337},
   x:{min:0.8921, max:1.1077, t:nsTicks, l:nsTickLabels}, y:{min:0.8912, max:1.107, t:nsVitYTicks, l:nsVitYLabels},
   yGap:66, xMargin:14, xGap:34,
   lg:{names:['vit'], left:1014, top:514.7, pad:[6.6,6,5.7,6.2], gap:6, fs:16, tp:7.8}}
];

function titleRich(kind, fs, sub) {
  const base = {fontFamily: FONT, color:'#000', fontWeight:'normal'};
  const rich = {
    a: Object.assign({}, base, {fontSize: fs, lineHeight: 24}),
    ai: Object.assign({}, base, {fontSize: fs, lineHeight: 24, fontStyle:'italic'}),
    b: Object.assign({}, base, {fontSize: sub, lineHeight: 14, padding:[10,0,0,0], fontStyle:'italic'}),
    bu: Object.assign({}, base, {fontSize: sub, lineHeight: 14, padding:[10,0,0,0]})
  };
  let text;
  if (kind === 'om') text = '{a|\u03A9}{b|m}';
  else if (kind === 'w0') text = '{ai|w}{bu|0}';
  else text = '{ai|n}{b|s}';
  return {text, rich};
}

function fmt(ticks, labels) {
  return function (v) {
    for (let i = 0; i < ticks.length; i++) if (Math.abs(ticks[i] - v) < 1e-7) return labels[i];
    return '';
  };
}

const option = {
  animation: false,
  backgroundColor: '#ffffff',
  grid: [], xAxis: [], yAxis: [], series: [], title: [], legend: [],
  graphic: [{type:'rect', left:0, top:463, shape:{width:1365, height:3}, style:{fill:'#f3f3f3'}, silent:true}]
};

panels.forEach((p, i) => {
  option.grid.push(Object.assign({show:true, borderColor:'#222', borderWidth:1, backgroundColor:'transparent', containLabel:false}, p.grid));
  const axisCommon = (a) => ({
    type:'value', min:a.min, max:a.max, gridIndex:i,
    axisLine:{show:true, onZero:false, lineStyle:{color:'#222', width:1}},
    splitLine:{show:false},
    axisTick:{show:true, inside:false, length:5, lineStyle:{color:'#222', width:1}, customValues:a.t},
    axisLabel:{show:true, customValues:a.t, formatter: fmt(a.t, a.l), fontFamily:FONT, fontSize:15, color:TXT},
  });
  const xa = axisCommon(p.x);
  xa.axisLabel.margin = p.xMargin;
  xa.name = 'truth'; xa.nameLocation = 'middle'; xa.nameGap = p.xGap;
  xa.nameTextStyle = {fontFamily:FONT, fontSize:23, color:TXT};
  option.xAxis.push(xa);
  const ya = axisCommon(p.y);
  ya.axisLabel.margin = 12;
  ya.name = 'prediction'; ya.nameLocation = 'middle'; ya.nameGap = p.yGap; ya.nameRotate = 90;
  ya.nameTextStyle = {fontFamily:FONT, fontSize:23, color:TXT};
  option.yAxis.push(ya);

  option.series.push({
    type:'scatter', name:p.name, xAxisIndex:i, yAxisIndex:i, data:p.data,
    symbol:'circle', symbolSize:p.size, itemStyle:{color:p.color, opacity:1},
    emphasis:{disabled:true}, z:2
  });
  option.series.push({
    type:'line', name:'truth to truth', xAxisIndex:i, yAxisIndex:i,
    data: p.line.map(v => [v, v]), symbol:'none', showSymbol:false,
    lineStyle:{color:'#000', width:p.lw}, itemStyle:{color:'#000'},
    emphasis:{disabled:true}, z:3
  });

  const tr = titleRich(p.title, p.tFs, p.tSub);
  option.title.push({
    text: tr.text, left: p.grid.left + p.grid.width/2, top: p.tTop, textAlign:'center', padding:0,
    textStyle:{fontWeight:'normal', rich: tr.rich}
  });

  option.legend.push({
    data: p.lg.names.map(n => n === 'truth to truth' ? {name:n, icon:LINE_ICON} : {name:n, icon:'circle'}),
    orient:'vertical', left:p.lg.left, top:p.lg.top,
    itemWidth:33, itemHeight:7, itemGap:p.lg.gap, padding:p.lg.pad,
    backgroundColor:'rgba(255,255,255,0.85)', borderColor:'#cccccc', borderWidth:1, borderRadius:3,
    selectedMode:false,
    textStyle:{fontFamily:FONT, fontSize:p.lg.fs, color:TXT, padding:[0,0,0,p.lg.tp]}
  });
});

const chart = echarts.init(document.getElementById('c'), null, {renderer:'canvas', width:1365, height:905});
chart.setOption(option);
</script>
</body></html>
